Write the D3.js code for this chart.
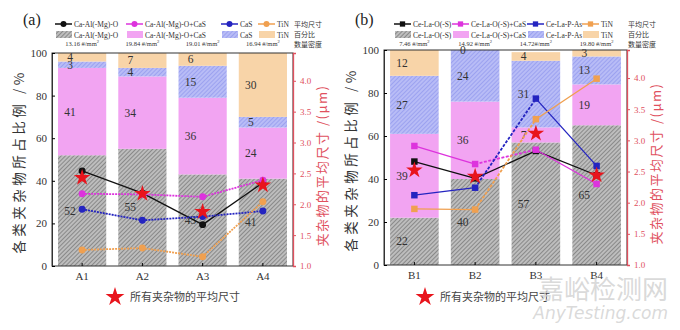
<!DOCTYPE html>
<html>
<head>
<meta charset="utf-8">
<script src="https://cdn.jsdelivr.net/npm/d3@7"></script>
<style>
  body { margin: 0; background: #fff; }
  svg text { font-family: "Liberation Serif", "DejaVu Serif", serif; }
  .cjk { font-family: "Noto Sans CJK SC", sans-serif !important; }
</style>
</head>
<body>
<div id="chart"></div>
<script>
// ---- data ----
var catsA = ["A1", "A2", "A3", "A4"];
var grayA = [52, 55, 43, 41];
var pinkA = [41, 34, 36, 24];
var blueA = [3, 4, 15, 5];
var tinA  = [4, 7, 6, 30];
var densA = ["13.16 ", "19.84 ", "19.01 ", "16.94 "];
var sizeOxA    = [2.54, 2.18, 1.67, 2.35];
var sizeOxCaSA = [2.17, 2.16, 2.12, 2.39];
var sizeCaSA   = [1.92, 1.74, 1.80, 1.89];
var sizeTiNA   = [1.26, 1.29, 1.15, 2.04];
var starA      = [2.43, 2.17, 1.88, 2.31];
var namesA = ["Ca-Al(-Mg)-O", "Ca-Al(-Mg)-O+CaS", "CaS", "TiN"];

var catsB = ["B1", "B2", "B3", "B4"];
var grayB = [22, 40, 57, 65];
var pinkB = [39, 36, 7, 19];
var blueB = [27, 24, 31, 13];
var tinB  = [12, 0, 4, 3];
var densB = ["7.46 ", "14.92 ", "14.72", "19.80 "];
var sizeOxB    = [2.66, 2.39, 2.83, 2.44];
var sizeOxCaSB = [2.91, 2.62, 2.85, 2.30];
var sizePAsB   = [2.12, 2.24, 3.67, 2.59];
var sizeTiNB   = [1.90, 1.89, 3.34, 3.99];
var starB      = [2.52, 2.42, 3.11, 2.44];
var namesB = ["Ce-La-O(-S)", "Ce-La-O(-S)+CaS", "Ce-La-P-As", "TiN"];

var leftTicks = [0, 20, 40, 60, 80, 100];
var rightTicks = [1.0, 1.5, 2.0, 2.5, 3.0, 3.5, 4.0];

var lineColors = ["#111111", "#dd33dd", "#2424c0", "#f0a050"];
var red = "#e0505e";

var svg = d3.select("#chart").append("svg")
  .attr("width", 680).attr("height", 330);

// hatch patterns
var defs = svg.append("defs");
function hatch(id, bg, fg) {
  var p = defs.append("pattern").attr("id", id)
    .attr("patternUnits", "userSpaceOnUse")
    .attr("width", 3).attr("height", 3)
    .attr("patternTransform", "rotate(45)");
  p.append("rect").attr("width", 3).attr("height", 3).attr("fill", bg);
  p.append("line").attr("x1", 0).attr("y1", 0).attr("x2", 0).attr("y2", 3)
    .attr("stroke", fg).attr("stroke-width", 1.2);
}
hatch("hGray", "#bdbdbd", "#666666");
hatch("hBlue", "#b8bcf6", "#8a90ec");
var fills = ["url(#hGray)", "#f2a4f2", "url(#hBlue)", "#f8d4a8"];

function drawPanel(cfg) {
  var x = d3.scaleBand().domain(cfg.cats).range([cfg.x0, cfg.x1])
    .paddingInner(0.2).paddingOuter(0.1);
  var y = d3.scaleLinear().domain([0, 100]).range([cfg.yBot, cfg.yTop]);
  var y2 = d3.scaleLinear().domain([1, 4.45]).range([cfg.yBot, cfg.yTop]);
  var g = svg.append("g");

  // stacked bars
  var rows = cfg.cats.map(function (c, i) {
    return { cat: c, s0: cfg.stack[0][i], s1: cfg.stack[1][i], s2: cfg.stack[2][i], s3: cfg.stack[3][i] };
  });
  var series = d3.stack().keys(["s0", "s1", "s2", "s3"])(rows);
  series.forEach(function (s, k) {
    g.append("g").selectAll("rect").data(s).enter().append("rect")
      .attr("x", function (d) { return x(d.data.cat); })
      .attr("width", x.bandwidth())
      .attr("y", function (d) { return y(d[1]); })
      .attr("height", function (d) { return y(d[0]) - y(d[1]); })
      .attr("fill", fills[k]);
  });
  series.forEach(function (s, k) {
    g.append("g").selectAll("text").data(s).enter().append("text")
      .attr("x", function (d) { return x(d.data.cat) + 12; })
      .attr("y", function (d) { return y((d[0] + d[1]) / 2) + 4; })
      .attr("text-anchor", "middle")
      .attr("font-size", 11.5).attr("fill", "#333")
      .text(function (d) { return d[1] - d[0]; });
  });

  // frame
  g.append("rect").attr("x", cfg.x0).attr("y", cfg.yTop)
    .attr("width", cfg.x1 - cfg.x0).attr("height", cfg.yBot - cfg.yTop)
    .attr("fill", "none").attr("stroke", "#333").attr("stroke-width", 1);

  // axes
  var ax = g.append("g").attr("transform", "translate(" + cfg.x0 + ",0)")
    .call(d3.axisLeft(y).tickValues(leftTicks).tickSize(-3).tickPadding(5));
  ax.select(".domain").attr("stroke", "#333");
  ax.selectAll("text").attr("font-size", 11).attr("fill", "#333")
    .style("font-family", "Liberation Serif");

  var bx = g.append("g").attr("transform", "translate(0," + cfg.yBot + ")")
    .call(d3.axisBottom(x).tickSize(-3).tickPadding(6));
  bx.select(".domain").remove();
  bx.selectAll("text").attr("font-size", 11).attr("fill", "#333")
    .style("font-family", "Liberation Serif");

  var rx = g.append("g").attr("transform", "translate(" + cfg.x1 + ",0)")
    .call(d3.axisRight(y2).tickValues(rightTicks).tickFormat(d3.format(".1f")).tickSize(3).tickPadding(4));
  rx.select(".domain").attr("stroke", red).attr("stroke-width", 1.3);
  rx.selectAll("line").attr("stroke", red);
  rx.selectAll("text").attr("font-size", 9).attr("fill", red)
    .style("font-family", "Liberation Serif");

  // axis titles
  g.append("text").attr("class", "cjk")
    .attr("transform", "translate(" + (cfg.x0 - 28) + "," + ((cfg.yTop + cfg.yBot) / 2 + 2) + ") rotate(-90)")
    .attr("text-anchor", "middle").attr("font-size", 13.5).attr("letter-spacing", 3.5).attr("fill", "#333")
    .text("各类夹杂物所占比例 /%");
  g.append("text").attr("class", "cjk")
    .attr("transform", "translate(" + (cfg.x1 + 34) + "," + ((cfg.yTop + cfg.yBot) / 2 + 6) + ") rotate(-90)")
    .attr("text-anchor", "middle").attr("font-size", 13).attr("letter-spacing", 1.5).attr("fill", red)
    .text("夹杂物的平均尺寸 /(μm)");

  // size lines
  var line = d3.line()
    .x(function (d) { return x(d.cat) + x.bandwidth() / 2; })
    .y(function (d) { return y2(d.v); });
  cfg.sizes.forEach(function (vals, k) {
    var pts = cfg.cats.map(function (c, i) { return { cat: c, v: vals[i] }; });
    for (var i = 0; i < pts.length - 1; i++) {
      var dash = cfg.dash(k, i);
      g.append("path").datum([pts[i], pts[i + 1]])
        .attr("d", line).attr("fill", "none")
        .attr("stroke", lineColors[k])
        .attr("stroke-width", dash ? 1.8 : 1.3)
        .attr("stroke-dasharray", dash);
    }
    g.append("g").selectAll("path").data(pts).enter().append("path")
      .attr("transform", function (d) { return "translate(" + line.x()(d) + "," + line.y()(d) + ")"; })
      .attr("d", d3.symbol().type(cfg.marker).size(cfg.marker === d3.symbolSquare ? 42 : 38))
      .attr("fill", lineColors[k]);
  });

  // average star
  g.append("g").selectAll("path").data(cfg.stars).enter().append("path")
    .attr("transform", function (d, i) { return "translate(" + (x(cfg.cats[i]) + x.bandwidth() / 2) + "," + y2(d) + ")"; })
    .attr("d", d3.symbol().type(d3.symbolStar).size(85))
    .attr("fill", "#e8141c");

  // density labels
  g.append("g").selectAll("text").data(cfg.dens).enter().append("text")
    .attr("x", function (d, i) { return x(cfg.cats[i]) + x.bandwidth() / 2; })
    .attr("y", 46).attr("text-anchor", "middle")
    .attr("font-size", 6.5).attr("fill", "#333")
    .each(function (d) {
      var t = d3.select(this);
      t.append("tspan").text(d + "#/mm");
      t.append("tspan").attr("dy", -3).attr("font-size", 4.5).text("2");
    });

  // legend
  var lx = cfg.legendX;
  cfg.names.forEach(function (n, k) {
    var x0 = lx[k];
    g.append("line").attr("x1", x0).attr("x2", x0 + 17).attr("y1", 24).attr("y2", 24)
      .attr("stroke", lineColors[k]).attr("stroke-width", 1.5);
    g.append("path").attr("transform", "translate(" + (x0 + 8.5) + ",24)")
      .attr("d", d3.symbol().type(cfg.marker).size(28)).attr("fill", lineColors[k]);
    g.append("text").attr("x", x0 + 19).attr("y", 27).attr("font-size", 7.5).attr("fill", "#333").text(n);
    g.append("rect").attr("x", x0 + 1).attr("y", 31).attr("width", 16).attr("height", 7).attr("fill", fills[k]);
    g.append("text").attr("x", x0 + 19).attr("y", 37.5).attr("font-size", 7.5).attr("fill", "#333").text(n);
  });
  var side = ["平均尺寸", "百分比", "数量密度"];
  side.forEach(function (s, i) {
    g.append("text").attr("class", "cjk").attr("x", cfg.x1 + 1).attr("y", 27 + i * 10)
      .attr("font-size", 7).attr("fill", "#333").text(s);
  });

  // panel label
  g.append("text").attr("x", cfg.x0 - 29).attr("y", 25).attr("font-size", 16).attr("fill", "#222").text(cfg.label);

  // star legend
  g.append("path").attr("transform", "translate(" + cfg.starLegX + ",297)")
    .attr("d", d3.symbol().type(d3.symbolStar).size(110)).attr("fill", "#e8141c");
  g.append("text").attr("class", "cjk").attr("x", cfg.starLegX + 15).attr("y", 301)
    .attr("font-size", 11).attr("fill", "#444").text("所有夹杂物的平均尺寸");
}

drawPanel({
  label: "(a)", cats: catsA, stack: [grayA, pinkA, blueA, tinA],
  sizes: [sizeOxA, sizeOxCaSA, sizeCaSA, sizeTiNA], stars: starA, dens: densA,
  names: namesA, marker: d3.symbolCircle,
  x0: 52, x1: 293, yTop: 53, yBot: 266,
  legendX: [55, 126, 221, 258], starLegX: 115,
  dash: function (k, i) { return k === 0 ? null : "2,1"; }
});
drawPanel({
  label: "(b)", cats: catsB, stack: [grayB, pinkB, blueB, tinB],
  sizes: [sizeOxB, sizeOxCaSB, sizePAsB, sizeTiNB], stars: starB, dens: densB,
  names: namesB, marker: d3.symbolSquare,
  x0: 384, x1: 627, yTop: 50, yBot: 265,
  legendX: [394, 452, 527, 582], starLegX: 425,
  dash: function (k, i) { return (i === 1 && k > 0) ? "3,1.5" : null; }
});

// watermark
svg.append("text").attr("class", "cjk").attr("x", 668).attr("y", 299).attr("text-anchor", "end")
  .attr("font-size", 26).attr("fill", "#d0d0d0").attr("fill-opacity", 0.8).text("嘉峪检测网");
svg.append("text").attr("x", 668).attr("y", 319).attr("text-anchor", "end")
  .style("font-family", "DejaVu Sans").style("font-style", "italic")
  .attr("font-size", 17).attr("fill", "#d0d0d0").attr("fill-opacity", 0.8).text("AnyTesting.com");
</script>
</body>
</html>
